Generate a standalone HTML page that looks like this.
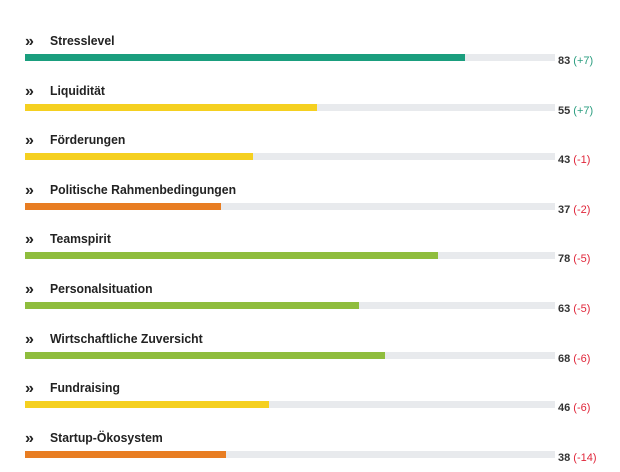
<!DOCTYPE html>
<html><head><meta charset="utf-8"><style>
body{margin:0;width:620px;height:472px;background:#fff;font-family:"Liberation Sans",sans-serif;position:relative;overflow:hidden}
.t{position:absolute;left:50px;font-size:13px;font-weight:bold;color:#222;line-height:14px;transform:scaleX(0.94);transform-origin:0 0}
.c{position:absolute;left:25px;font-size:16px;font-weight:bold;color:#222;line-height:14px}
.b{position:absolute;left:25px;width:530px;height:7px;background:#e8eaed}
.f{height:7px}
.v{position:absolute;left:558px;font-size:11px;font-weight:bold;color:#333;line-height:12px}
.p{color:#2a9d7f;font-weight:normal}.n{color:#e0263a;font-weight:normal}
</style></head><body>
<div id="c"></div>
<script>
var d=[["Stresslevel",83,"+7","#1a9e7e"],["Liquidität",55,"+7","#f5d020"],["Förderungen",43,"-1","#f5d020"],["Politische Rahmenbedingungen",37,"-2","#e87d22"],["Teamspirit",78,"-5","#8fbd3d"],["Personalsituation",63,"-5","#8fbd3d"],["Wirtschaftliche Zuversicht",68,"-6","#8fbd3d"],["Fundraising",46,"-6","#f5d020"],["Startup-Ökosystem",38,"-14","#e87d22"]];
var h="";d.forEach(function(e,i){var y=54+i*49.6;
h+='<div class="c" style="top:'+(y-19)+'px">»</div><div class="t" style="top:'+(y-20)+'px">'+e[0]+'</div><div class="b" style="top:'+y+'px"><div class="f" style="width:'+e[1]+'%;background:'+e[3]+'"></div></div><div class="v" style="top:'+(y+1)+'px">'+e[1]+' <span class="'+(e[2][0]=="+"?"p":"n")+'">('+e[2]+')</span></div>';});
document.getElementById("c").innerHTML=h;
</script>
</body></html>
